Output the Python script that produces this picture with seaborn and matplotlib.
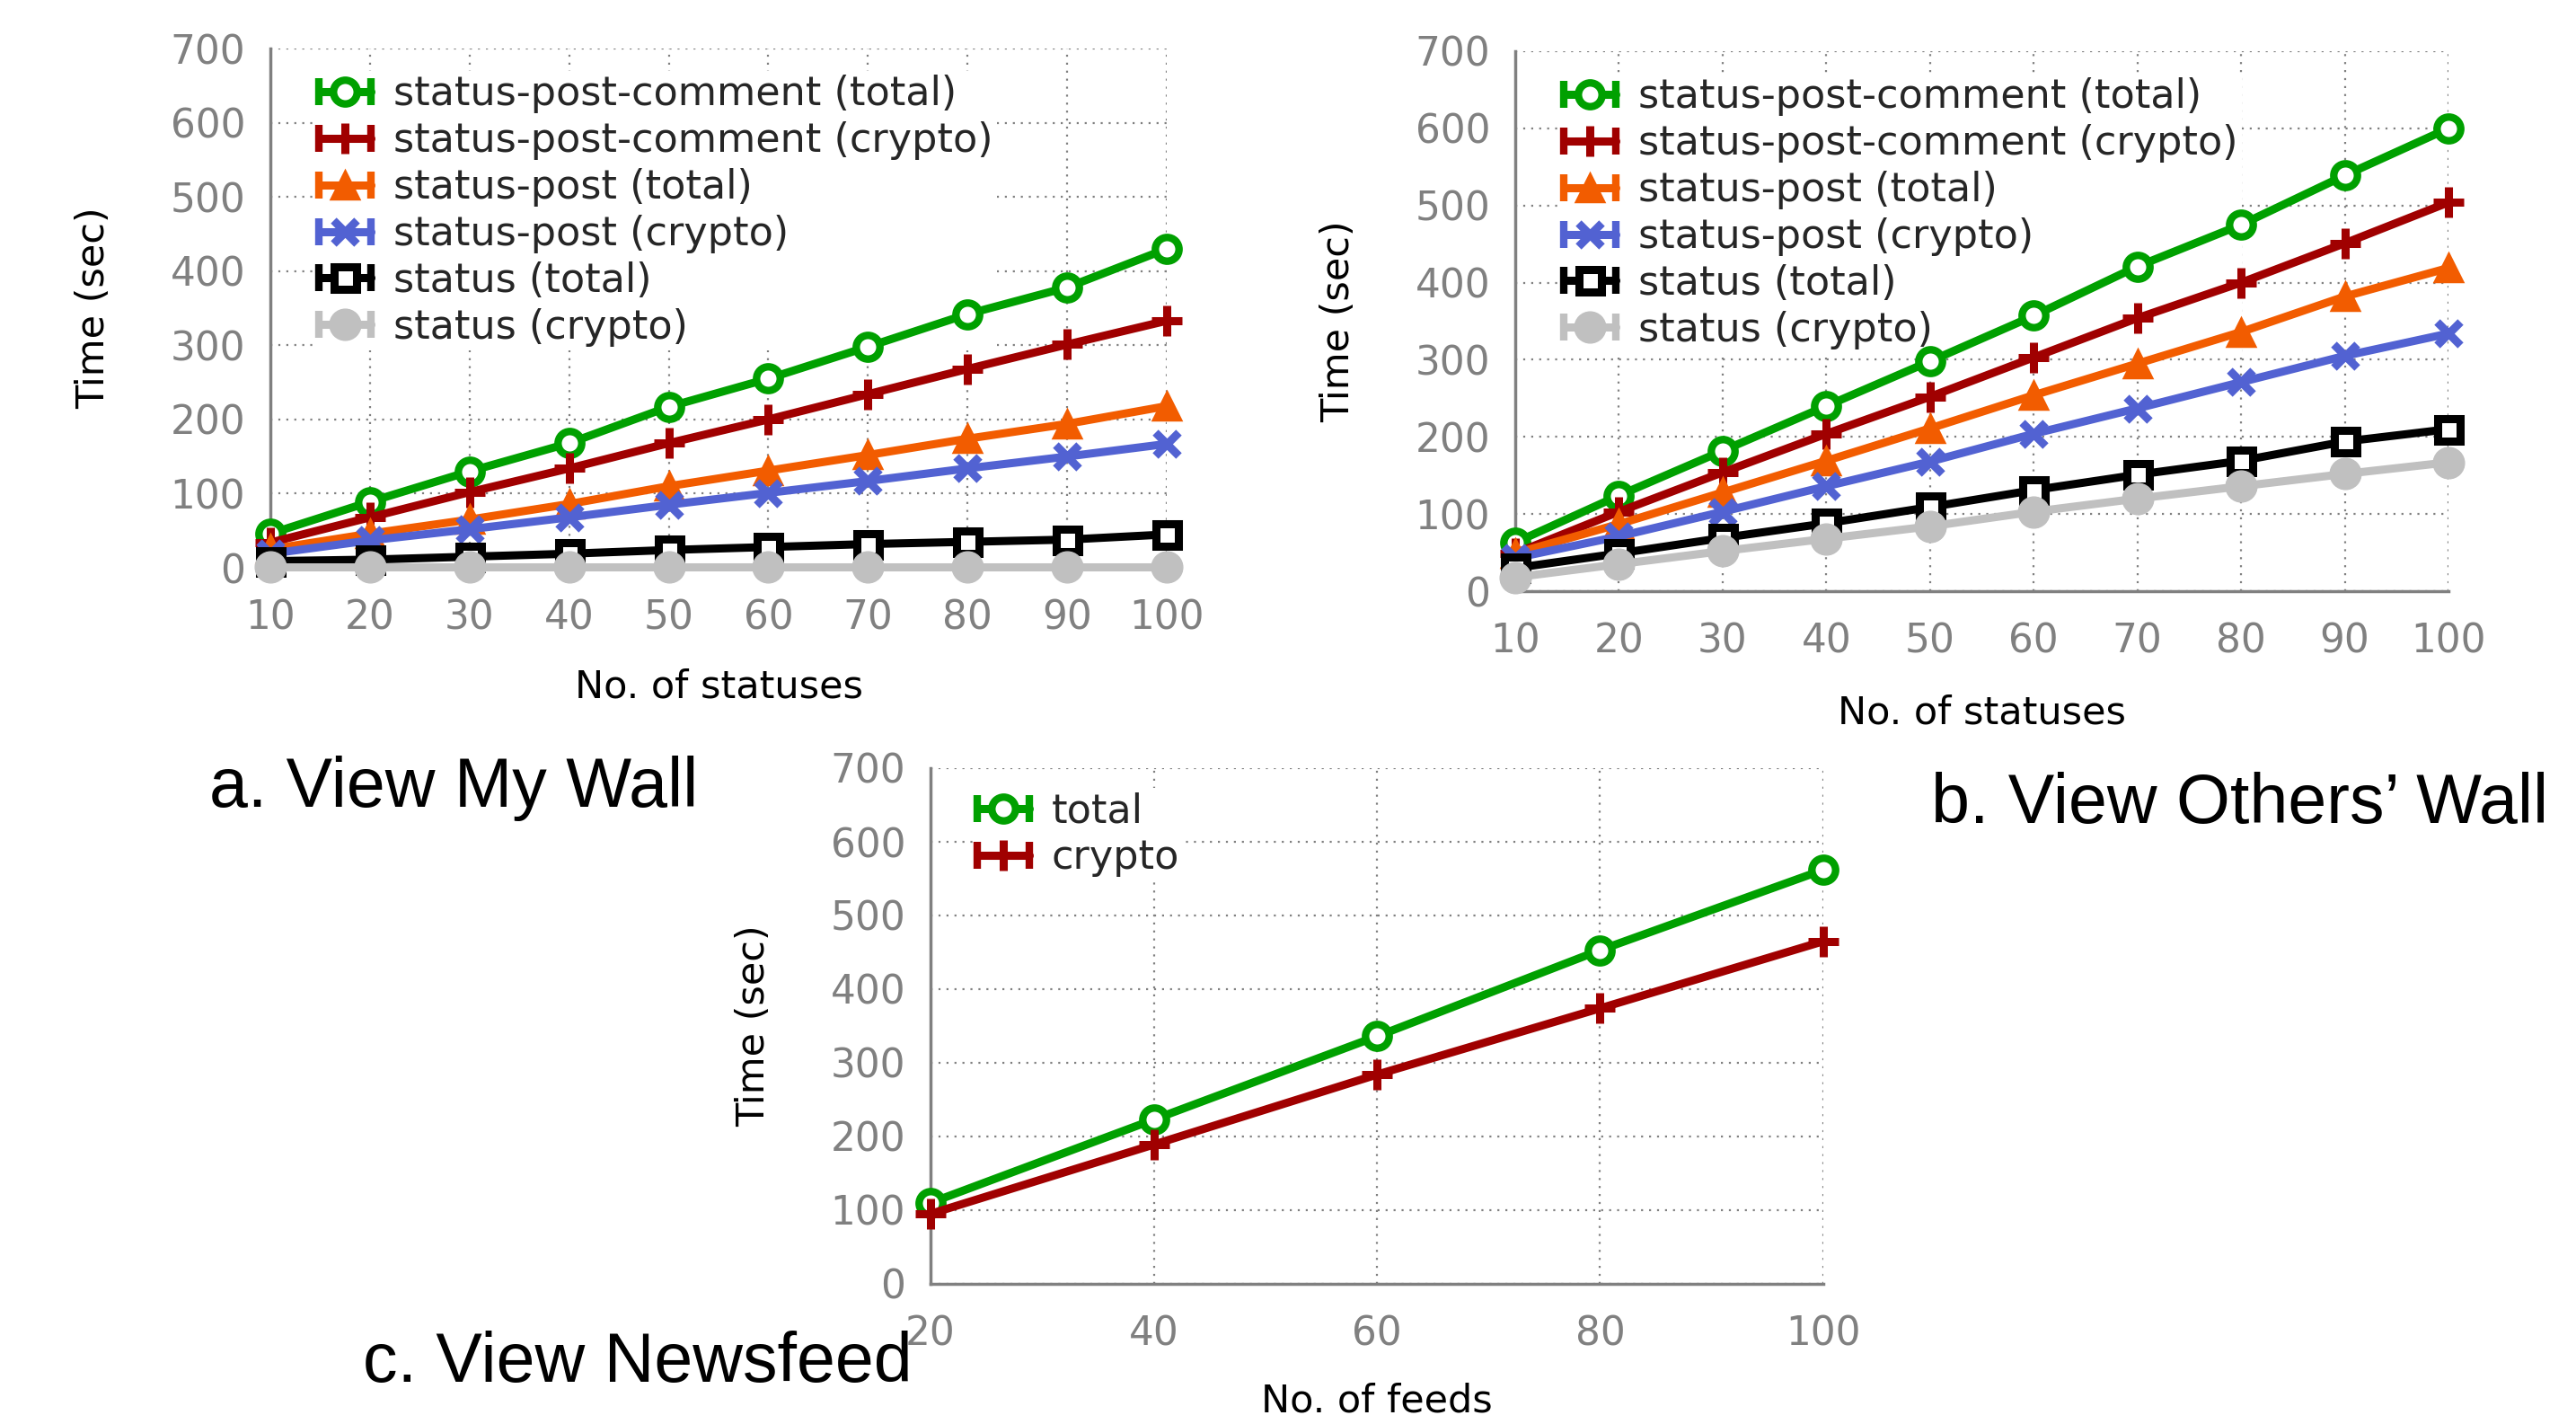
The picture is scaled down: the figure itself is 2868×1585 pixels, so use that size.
import matplotlib
matplotlib.use("Agg")
import matplotlib.pyplot as plt
import pandas as pd
import seaborn as sns
from matplotlib.lines import Line2D
from matplotlib.legend_handler import HandlerLine2D

# x values
statuses = [10, 20, 30, 40, 50, 60, 70, 80, 90, 100]
feeds = [20, 40, 60, 80, 100]

# a. View My Wall
mw_spc_total = [46, 89, 130, 168, 217, 255, 298, 342, 378, 430]
mw_spc_crypto = [34, 68, 102, 134, 168, 200, 234, 268, 301, 333]
mw_sp_total = [25, 46, 65, 86, 110, 131, 152, 174, 194, 218]
mw_sp_crypto = [19, 37, 52, 68, 85, 101, 117, 134, 150, 167]
mw_s_total = [9, 11, 15, 19, 24, 28, 32, 35, 38, 45]
mw_s_crypto = [1, 1, 1, 1, 1, 1, 1, 1, 1, 1]

# b. View Others' Wall
ow_spc_total = [63, 124, 182, 240, 298, 357, 421, 475, 539, 600]
ow_spc_crypto = [49, 103, 154, 204, 252, 303, 354, 400, 451, 504]
ow_sp_total = [49, 87, 128, 169, 211, 254, 295, 336, 382, 419]
ow_sp_crypto = [43, 71, 103, 136, 168, 204, 237, 271, 305, 334]
ow_s_total = [30, 49, 69, 88, 109, 131, 151, 169, 194, 210]
ow_s_crypto = [18, 35, 52, 68, 84, 103, 120, 136, 152, 167]

# c. View Newsfeed
nf_total = [110, 223, 336, 453, 562]
nf_crypto = [95, 189, 284, 374, 465]

series_names = ["status-post-comment (total)", "status-post-comment (crypto)",
                "status-post (total)", "status-post (crypto)",
                "status (total)", "status (crypto)"]

GREEN, RED, ORANGE, BLUE, GRAY = "#00a000", "#a00000", "#f25c00", "#5262d2", "#c0c0c0"
STYLES = [
    dict(color=GREEN, marker="o", markerfacecolor="white", markersize=19, markeredgewidth=6),
    dict(color=RED, marker="+", markersize=25, markeredgewidth=6.5),
    dict(color=ORANGE, marker="^", markersize=22, markeredgewidth=2.5),
    dict(color=BLUE, marker="x", markersize=19, markeredgewidth=6.5),
    dict(color="black", marker="s", markerfacecolor="white", markersize=18, markeredgewidth=6.5),
    dict(color=GRAY, marker="o", markersize=25, markeredgewidth=1),
]
LW = 6.5
TICK_GRAY = "#808080"

sns.set_style("white")
plt.rcParams["font.family"] = ["DejaVu Sans"]

W, H = 2868, 1585
fig = plt.figure(figsize=(W / 100, H / 100), dpi=100)


def px_axes(l, r, t, b):
    ax = fig.add_axes([l / W, 1 - b / H, (r - l) / W, (b - t) / H])
    ax._px = (r - l, b - t)
    return ax


def draw_panel(ax, x, values, labels, styles, xticks, xlabel, leg_off, xlab_off):
    df = pd.DataFrame({"x": x, **dict(zip(labels, values))})
    df = df.melt("x", var_name="series", value_name="time")
    for name, st in zip(labels, styles):
        sub = df[df["series"] == name]
        sns.lineplot(data=sub, x="x", y="time", ax=ax, legend=False, lw=LW,
                     markeredgecolor=st["color"], clip_on=False, zorder=3, **st)

    ax.set_xlim(x[0], x[-1])
    ax.set_ylim(0, 700)
    ax.set_xticks(xticks)
    ax.set_yticks(range(0, 701, 100))
    ax.set_axisbelow(True)
    ax.grid(True, color=TICK_GRAY, ls=(0, (1, 3)), lw=1.6)
    for s in ["top", "right"]:
        ax.spines[s].set_visible(False)
    for s in ["left", "bottom"]:
        ax.spines[s].set_color(TICK_GRAY)
        ax.spines[s].set_linewidth(2.5)
    ax.tick_params(direction="in", length=10, width=2.5, color=TICK_GRAY,
                   labelcolor=TICK_GRAY, labelsize=31.5)
    ax.tick_params(axis="x", pad=25)
    ax.tick_params(axis="y", pad=20)

    w, h = ax._px
    ax.set_ylabel("Time (sec)", fontsize=31, color="black")
    ax.yaxis.label.set_va("center")
    ax.yaxis.set_label_coords(-197 / w, 0.5)
    ax.set_xlabel(xlabel, fontsize=31, color="black")
    ax.xaxis.label.set_va("center")
    ax.xaxis.set_label_coords(0.5, -xlab_off / h)

    # legend handles: error-bar style caps with the marker in the middle
    handles, hmap = [], {}
    for st in styles:
        caps = Line2D([], [], color=st["color"], lw=LW, marker="|", markersize=22,
                      markeredgewidth=6, solid_capstyle="round")
        mark = Line2D([], [], ls="none", markeredgecolor=st["color"], **st)
        hmap[caps] = HandlerLine2D(numpoints=2, marker_pad=0)
        handles.append((caps, mark))
    leg = ax.legend(handles, labels, handler_map=hmap, loc="upper left",
                    bbox_to_anchor=(leg_off[0] / w, 1 - leg_off[1] / h),
                    fontsize=32, frameon=True, facecolor="white", edgecolor="none",
                    framealpha=1, fancybox=False, borderpad=0.1, borderaxespad=0,
                    handlelength=1.3, handletextpad=0.55, labelspacing=0.2)
    leg.set_zorder(2.5)


ax_a = px_axes(301, 1299, 54, 632)
draw_panel(ax_a, statuses,
           [mw_spc_total, mw_spc_crypto, mw_sp_total, mw_sp_crypto, mw_s_total, mw_s_crypto],
           series_names, STYLES, statuses, "No. of statuses", (50, 25), 132)

ax_b = px_axes(1687, 2726, 57, 658)
draw_panel(ax_b, statuses,
           [ow_spc_total, ow_spc_crypto, ow_sp_total, ow_sp_crypto, ow_s_total, ow_s_crypto],
           series_names, STYLES, statuses, "No. of statuses", (50, 25), 136)

ax_c = px_axes(1036, 2030, 855, 1429)
draw_panel(ax_c, feeds, [nf_total, nf_crypto], ["total", "crypto"],
           STYLES[:2], feeds, "No. of feeds", (48, 22), 130)

title_font = dict(fontsize=55.5, family=["Liberation Sans", "DejaVu Sans"],
                  color="black", va="baseline")
fig.text(233 / W, 1 - 898 / H, "a. View My Wall", **title_font)
fig.text(2150 / W, 1 - 916 / H, "b. View Others\u2019 Wall", **title_font)
fig.text(404 / W, 1 - 1538 / H, "c. View Newsfeed", **title_font)

fig.savefig("out.png", dpi=100)
